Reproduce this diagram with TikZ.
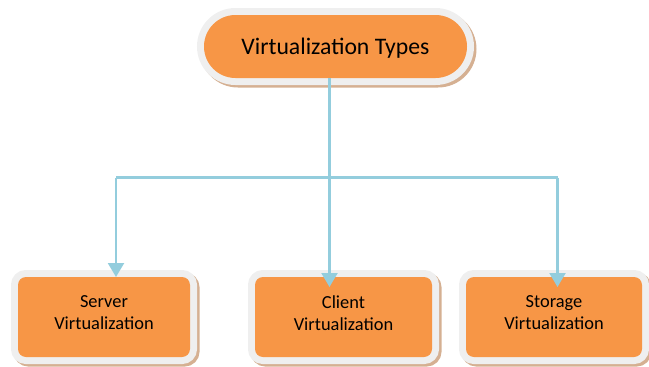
\documentclass[tikz,border=0pt]{standalone}
\usepackage{fontspec}
\setmainfont{Carlito}
\usetikzlibrary{arrows.meta}
\definecolor{boxfill}{HTML}{F79646}
\definecolor{framec}{HTML}{EFEFEF}
\definecolor{shadowc}{HTML}{D5B092}
\definecolor{linkc}{HTML}{93CDDD}
\newcommand{\lowpad}{\rule[-8pt]{0pt}{8pt}}
\tikzset{
  framed/.style={inner sep=0pt, outer sep=0pt, fill=boxfill, text=black, align=center,
    preaction={draw=shadowc, fill=shadowc, line width=14pt,
      transform canvas={shift={(2.5pt,-2.5pt)}}},
    preaction={draw=framec, line width=14pt}},
  titlebox/.style={framed, minimum width=263pt, minimum height=63pt,
    rounded corners=31.5pt, font=\fontsize{23.7}{28}\selectfont},
  typebox/.style={framed, minimum height=80pt, rounded corners=8pt,
    font=\fontsize{18.4}{22}\selectfont},
  link/.style={draw=linkc, line width=2.2pt},
  linkarrow/.style={link, -{Triangle[width=16pt,length=14pt]}}
}
\begin{document}
\begin{tikzpicture}[x=1pt, y=-1pt]
  \useasboundingbox (0,0) rectangle (649,367);
  % root and the three kinds
  \node[titlebox] (t) at (335.5,46.5)
    {\raisebox{-1.5pt}[\height][\depth]{Virtualization Types}};
  \node[typebox, minimum width=172pt] (s1) at (104,317) {Server\\Virtualization\lowpad};
  \node[typebox, minimum width=177pt] (s2) at (343.5,317) {Client\\Virtualization\lowpad};
  \node[typebox, minimum width=176pt] (s3) at (554,317) {Storage\\Virtualization\lowpad};
  % branch points of the connector tree
  \coordinate (jl) at (116,177.5);
  \coordinate (jr) at (557.5,177.5);
  \coordinate (xm) at (329.5,177.5);
  \coordinate (m2) at ([yshift=-10pt]s2.north);
  \coordinate (m3) at ([yshift=-10pt]s3.north);
  % connectors
  \draw[link] (jl) -- (jr);
  \draw[linkarrow] (t.south -| xm) -- (m2 -| xm);
  \draw[linkarrow] (jl) -- (s1.north -| jl);
  \draw[linkarrow] (jr) -- (m3 -| jr);
\end{tikzpicture}
\end{document}
